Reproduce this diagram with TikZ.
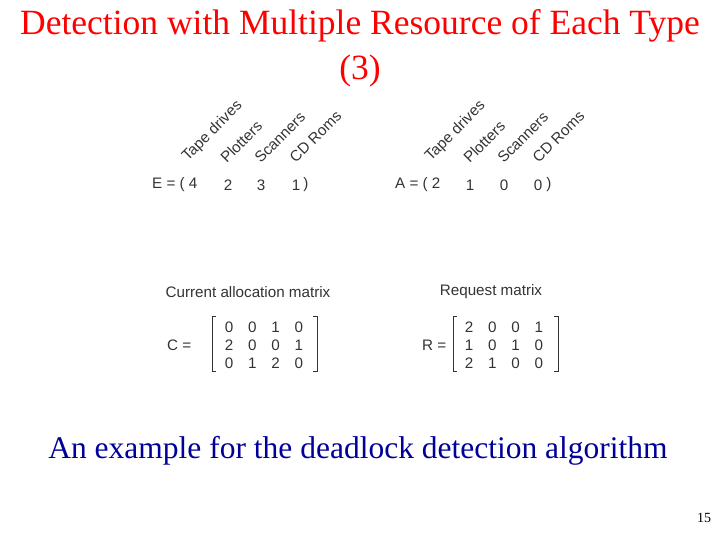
\documentclass[tikz,border=0pt]{standalone}
\usepackage{fontspec}
\setmainfont{Liberation Serif}
\newfontfamily\arialf{Liberation Sans}
\begin{document}
\begin{tikzpicture}[x=1pt,y=-1pt,
  dg/.style={font=\arialf\fontsize{15.2}{16}\selectfont,text=black!80,inner sep=0pt},
  rl/.style={dg,rotate=45,anchor=south west,inner sep=0pt},
  br/.style={draw=black!80,line width=0.8pt}]
\useasboundingbox (0,0) rectangle (720,540);
\node[text=red,font=\fontsize{35.5}{45}\selectfont,align=center] (t) at (360,48) {Detection with Multiple Resource of Each Type\\(3)};
% E vector
\node[dg,anchor=west] (e) at (152,185) {E = ( 4};
\foreach \x/\v/\n in {228/2/e2,261/3/e3,296/1/e4}{\node[dg] (\n) at (\x,185) {\v};}
\node[dg] (ep) at (306,185) {)};
\foreach \x/\t/\n in {190/Tape drives/la1,227/Plotters/la2,261/Scanners/la3,296/CD Roms/la4}{\node[rl] (\n) at (\x,164) {\t};}
% A vector
\node[dg,anchor=west] (a) at (395,185) {A = ( 2};
\foreach \x/\v/\n in {470/1/a2,504/0/a3,538/0/a4}{\node[dg] (\n) at (\x,185) {\v};}
\node[dg] (ap) at (549,185) {)};
\foreach \x/\t/\n in {433/Tape drives/lb1,470/Plotters/lb2,504/Scanners/lb3,539/CD Roms/lb4}{\node[rl] (\n) at (\x,164) {\t};}
% labels
\node[dg] (cl) at (248,292) {Current allocation matrix};
\node[dg] (rlab) at (491,292) {Request matrix};
% C matrix
\node[dg,anchor=west] (c) at (167,345) {C =};
\draw[br] (216,316) -- (212,316) -- (212,371) -- (216,371);
\draw[br] (313,316) -- (317,316) -- (317,371) -- (313,371);
\foreach \r [count=\i] in {{0,0,1,0},{2,0,0,1},{0,1,2,0}}{
  \foreach \v [count=\j] in \r {
    \node[dg] (c\i\j) at ({229+23.3*(\j-1)},{327+18*(\i-1)}) {\v};}}
% R matrix
\node[dg,anchor=west] (rr) at (422,345) {R =};
\draw[br] (457,316) -- (453,316) -- (453,371) -- (457,371);
\draw[br] (554,316) -- (558,316) -- (558,371) -- (554,371);
\foreach \r [count=\i] in {{2,0,0,1},{1,0,1,0},{2,1,0,0}}{
  \foreach \v [count=\j] in \r {
    \node[dg] (r\i\j) at ({469+23.3*(\j-1)},{327+18*(\i-1)}) {\v};}}
\node[text=blue!60!black,font=\fontsize{31.5}{34}\selectfont] (cap) at (358,451) {An example for the deadlock detection algorithm};
\node[font=\fontsize{14}{16}\selectfont] (pg) at (704,518) {15};
\end{tikzpicture}
\end{document}
